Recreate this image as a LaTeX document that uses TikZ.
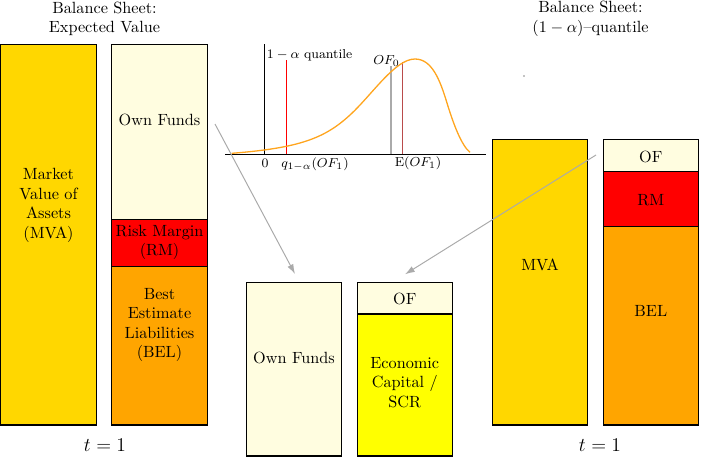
\documentclass[tikz,border=0pt]{standalone}
\usetikzlibrary{arrows.meta}
\definecolor{mvac}{RGB}{255,215,0}
\definecolor{ofc}{RGB}{255,253,224}
\definecolor{rmc}{RGB}{255,0,0}
\definecolor{belc}{RGB}{255,165,0}
\definecolor{ecc}{RGB}{255,255,0}
\definecolor{arrg}{RGB}{170,170,170}
\definecolor{curvec}{RGB}{255,165,30}
\definecolor{ered}{RGB}{185,75,75}
\begin{document}
\begin{tikzpicture}[x=0.6158pt,y=-0.6158pt,
  box/.style={draw=black,line width=0.7pt},
  lbl/.style={align=center,inner sep=0pt,font=\normalsize},
  small/.style={inner sep=0pt,font=\footnotesize},
  arr/.style={draw=arrg,line width=0.6pt,-{Latex[length=6pt,width=4pt]}}]
\useasboundingbox (0,0) rectangle (702,460);
% left balance sheet
\path[box,fill=mvac] (0.5,44.7) rectangle (96.5,425);
\path[box,fill=ofc] (111.3,44.7) rectangle (207.7,219.3);
\path[box,fill=rmc] (111.3,219.3) rectangle (207.7,266.7);
\path[box,fill=belc] (111.3,266.7) rectangle (207.7,425);
% middle
\path[box,fill=ofc] (246.3,282.3) rectangle (341.7,456);
\path[box,fill=ofc] (357.3,282.3) rectangle (452.3,314);
\path[box,fill=ecc] (357.3,314) rectangle (452.3,456);
% right
\path[box,fill=mvac] (492.7,139.3) rectangle (587.3,425);
\path[box,fill=ofc] (603.3,139.3) rectangle (698.3,171.3);
\path[box,fill=rmc] (603.3,171.3) rectangle (698.3,226.3);
\path[box,fill=belc] (603.3,226.3) rectangle (698.3,425);
% titles
\node[lbl] (t1) at (104.5,19) {Balance Sheet:\\Expected Value};
\node[lbl] (t2) at (590.5,19) {Balance Sheet:\\$(1-\alpha)$--quantile};
\fill (524,76) circle (0.7);
% box texts
\node[lbl] (mvaL) at (48.5,205.5) {Market\\Value of\\Assets\\(MVA)};
\node[lbl] (ofL) at (159.5,120) {Own Funds};
\node[lbl] (rmL) at (159.5,242.5) {Risk Margin\\(RM)};
\node[lbl] (belL) at (159.5,325) {Best\\Estimate\\Liabilities\\(BEL)};
\node[lbl] (ofM) at (294,358) {Own Funds};
\node[lbl] (ofM2) at (404.8,299) {OF};
\node[lbl] (ecM) at (404.8,382.5) {Economic\\Capital /\\SCR};
\node[lbl] (mvaR) at (540,265) {MVA};
\node[lbl] (ofR) at (650.8,156.5) {OF};
\node[lbl] (rmR) at (650.8,200.5) {RM};
\node[lbl] (belR) at (650.8,311) {BEL};
\node[lbl,font=\large] (tL) at (105,445) {$t=1$};
\node[lbl,font=\large] (tR) at (600,445) {$t=1$};
% graph
\coordinate (xa0) at (225,154.3);
\coordinate (xa1) at (485.7,154.3);
\coordinate (ya0) at (264.3,154.3);
\coordinate (ya1) at (264.3,44);
\draw[line width=0.6pt] (xa0) -- (xa1);
\draw[line width=0.6pt] (ya0) -- (ya1);
\coordinate (q0) at (286.7,154.3);
\coordinate (q1) at (286.7,60);
\draw[red,line width=0.6pt] (q0) -- (q1);
\coordinate (g0) at (390.7,154.3);
\coordinate (g1) at (390.7,66);
\draw[arrg,line width=1.4pt] (g0) -- (g1);
\coordinate (e0) at (402.3,154.3);
\coordinate (e1) at (402.3,61.7);
\draw[ered,line width=0.6pt] (e0) -- (e1);
\draw[curvec,line width=0.8pt]
  (231.7,153.3) .. controls (300,148) and (325,138) .. (350,115)
  .. controls (372.5,94.3) and (395,59) .. (415,59)
  .. controls (432,59) and (440,80) .. (447,103)
  .. controls (454,126) and (462,146) .. (470,152.3);
\node[small,anchor=west] (qlab) at (266.5,55) {$1-\alpha$ quantile};
\node[small] (of0) at (386.5,61) {$OF_0$};
\node[small] (zero) at (265,163) {$0$};
\node[small] (qq) at (315,164) {$q_{1-\alpha}(OF_1)$};
\node[small] (eof) at (418,163.5) {$\mathrm{E}(OF_1)$};
% arrows
\coordinate (a1s) at (215,124);
\coordinate (a1e) at (295,274);
\coordinate (a2s) at (596,155);
\coordinate (a2e) at (405,274.3);
\draw[arr] (a1s) -- (a1e);
\draw[arr] (a2s) -- (a2e);
\end{tikzpicture}
\end{document}
